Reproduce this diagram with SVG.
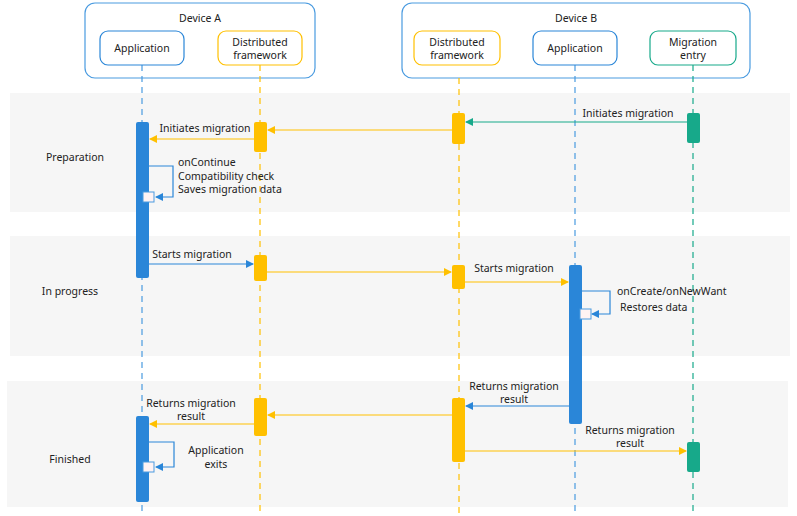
<svg xmlns="http://www.w3.org/2000/svg" width="797" height="516" viewBox="0 0 797 516">
<defs>
<style>
text{font-family:"Noto Sans","Liberation Sans",sans-serif;font-size:10.5px;fill:#222;text-anchor:middle}
.dev{fill:#fff;stroke:#4a9be0;stroke-width:1.2}
.hb{fill:#fff;stroke:#2a86d8;stroke-width:1.2}
.hy{fill:#fff;stroke:#ffc000;stroke-width:1.2}
.hg{fill:#fff;stroke:#17a98a;stroke-width:1.2}
.band{fill:#f6f6f6}
.lb{stroke:#4a9be0;stroke-dasharray:6,5;stroke-width:1.2}
.ly{stroke:#ffc000;stroke-dasharray:6,5;stroke-width:1.2}
.lg{stroke:#17a98a;stroke-dasharray:6,5;stroke-width:1.2}
.ab{fill:#2a86d8}.ay{fill:#ffc000}.ag{fill:#17a98a}
.cb{stroke:#2a86d8;fill:none;stroke-width:1.2;marker-end:url(#mb)}
.cy{stroke:#ffc000;fill:none;stroke-width:1.2;marker-end:url(#my)}
.cg{stroke:#17a98a;fill:none;stroke-width:1.2;marker-end:url(#mg)}
.sq{fill:#fff3f3;stroke:#4a9be0;stroke-width:1}
</style>
<marker id="mb" markerWidth="8" markerHeight="8" refX="7" refY="4" orient="auto" markerUnits="userSpaceOnUse"><path d="M0,0L8,4L0,8z" fill="#2a86d8"/></marker>
<marker id="my" markerWidth="8" markerHeight="8" refX="7" refY="4" orient="auto" markerUnits="userSpaceOnUse"><path d="M0,0L8,4L0,8z" fill="#ffc000"/></marker>
<marker id="mg" markerWidth="8" markerHeight="8" refX="7" refY="4" orient="auto" markerUnits="userSpaceOnUse"><path d="M0,0L8,4L0,8z" fill="#17a98a"/></marker>
</defs>
<rect class="band" x="10" y="93" width="780" height="119"/>
<rect class="band" x="10" y="236" width="780" height="120"/>
<rect class="band" x="7" y="381" width="781" height="126"/>
<text x="75" y="161">Preparation</text>
<text x="70" y="295">In progress</text>
<text x="70" y="463">Finished</text>
<g id="deviceA"><rect class="dev" x="85" y="3" width="230" height="75" rx="10"/><text x="200" y="22">Device A</text></g>
<g id="deviceB"><rect class="dev" x="402" y="3" width="348" height="75" rx="10"/><text x="576" y="22">Device B</text></g>
<g id="lifelines">
<line class="lb" x1="142" y1="65" x2="142" y2="516"/>
<line class="ly" x1="260" y1="65" x2="260" y2="516"/>
<line class="ly" x1="459" y1="78" x2="459" y2="516"/>
<line class="lb" x1="575" y1="65" x2="575" y2="516"/>
<line class="lg" x1="693" y1="65" x2="693" y2="516"/>
</g>
<g id="appA"><rect class="hb" x="100" y="31" width="84" height="34" rx="8"/><text x="142" y="52">Application</text></g>
<g id="dfA"><rect class="hy" x="218" y="31" width="84" height="34" rx="8"/><text x="260" y="46">Distributed</text><text x="260" y="59">framework</text></g>
<g id="dfB"><rect class="hy" x="414" y="31" width="86" height="34" rx="8"/><text x="457" y="46">Distributed</text><text x="457" y="59">framework</text></g>
<g id="appB"><rect class="hb" x="533" y="31" width="84" height="34" rx="8"/><text x="575" y="52">Application</text></g>
<g id="mig"><rect class="hg" x="650" y="31" width="86" height="34" rx="8"/><text x="693" y="46">Migration</text><text x="693" y="59">entry</text></g>
<g id="activations">
<rect class="ab" x="136" y="122" width="13" height="156" rx="2"/>
<rect class="ay" x="254" y="122" width="13" height="30" rx="2"/>
<rect class="ay" x="452" y="113" width="13" height="31" rx="2"/>
<rect class="ag" x="687" y="113" width="13" height="30" rx="2"/>
<rect class="ay" x="254" y="255" width="13" height="26" rx="2"/>
<rect class="ay" x="452" y="265" width="13" height="24" rx="2"/>
<rect class="ab" x="569" y="265" width="13" height="159" rx="2"/>
<rect class="ay" x="254" y="398" width="13" height="38" rx="2"/>
<rect class="ay" x="452" y="398" width="13" height="64" rx="2"/>
<rect class="ab" x="136" y="416" width="13" height="86" rx="2"/>
<rect class="ag" x="687" y="442" width="13" height="30" rx="2"/>
</g>
<g id="connectors">
<line class="cg" x1="687" y1="122" x2="466" y2="122"/>
<line class="cy" x1="452" y1="130" x2="268" y2="130"/>
<line class="cy" x1="254" y1="139" x2="150" y2="139"/>
<path class="cb" d="M149,166H173V197H156"/>
<line class="cb" x1="149" y1="264" x2="253" y2="264"/>
<line class="cy" x1="267" y1="272" x2="451" y2="272"/>
<line class="cy" x1="465" y1="282" x2="568" y2="282"/>
<path class="cb" d="M582,291H610V314H592"/>
<line class="cb" x1="569" y1="406" x2="466" y2="406"/>
<line class="cy" x1="452" y1="415" x2="268" y2="415"/>
<line class="cy" x1="254" y1="424" x2="150" y2="424"/>
<path class="cb" d="M149,442H174V467H156"/>
<line class="cy" x1="465" y1="451" x2="686" y2="451"/>
</g>
<rect class="sq" x="143" y="192" width="11" height="10"/>
<rect class="sq" x="580" y="309" width="11" height="10"/>
<rect class="sq" x="143" y="462" width="11" height="10"/>
<text x="628" y="117">Initiates migration</text>
<text x="205" y="132">Initiates migration</text>
<text x="178" y="166" style="text-anchor:start">onContinue</text>
<text x="178" y="180" style="text-anchor:start">Compatibility check</text>
<text x="178" y="193" style="text-anchor:start">Saves migration data</text>
<text x="192" y="258">Starts migration</text>
<text x="514" y="272">Starts migration</text>
<text x="617" y="295" style="text-anchor:start">onCreate/onNewWant</text>
<text x="620" y="311" style="text-anchor:start">Restores data</text>
<text x="514" y="390">Returns migration</text>
<text x="514" y="403">result</text>
<text x="191" y="407">Returns migration</text>
<text x="191" y="420">result</text>
<text x="216" y="454">Application</text>
<text x="216" y="468">exits</text>
<text x="630" y="434">Returns migration</text>
<text x="630" y="447">result</text>
</svg>
